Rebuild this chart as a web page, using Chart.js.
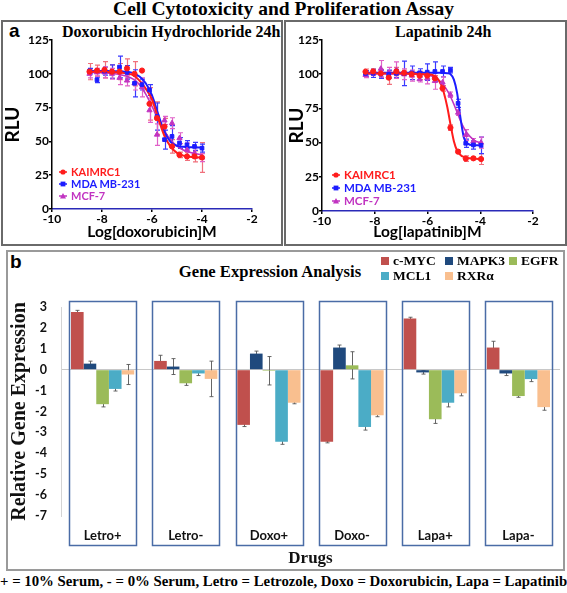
<!DOCTYPE html>
<html><head><meta charset="utf-8">
<script src="https://cdn.jsdelivr.net/npm/chart.js@4.4.0/dist/chart.umd.min.js"></script>
<style>
body{margin:0;width:567px;height:593px;position:relative;background:#fff;overflow:hidden;font-family:"Liberation Serif",serif}
.box{position:absolute;box-sizing:border-box}
canvas{position:absolute}
.t{position:absolute;white-space:nowrap;font-weight:bold}
.serif{font-family:"Liberation Serif","Times New Roman",serif}
.sans{font-family:"Liberation Sans",Arial,sans-serif}
.leg{position:absolute;font-family:Lato,sans-serif;font-weight:bold;font-size:11px;line-height:12px}
.leg div{display:flex;align-items:center;white-space:nowrap}
.bl{position:absolute;font-family:"Liberation Serif",serif;font-weight:bold;font-size:13.5px;display:flex;align-items:center;white-space:nowrap}
.sq{display:inline-block;width:8px;height:8px;margin-right:4px}
</style></head>
<body>
<!-- Panel borders -->
<div class="box" style="left:1px;top:20px;width:282px;height:226px;border:2px solid #6a6a6a"></div>
<div class="box" style="left:284px;top:20px;width:283px;height:226px;border:2px solid #6a6a6a"></div>
<div class="box" style="left:6px;top:250px;width:559px;height:321px;border:2px solid #9a9a9a"></div>

<div class="t serif" style="left:0;width:567px;text-align:center;top:-2px;font-size:19.5px">Cell Cytotoxicity and Proliferation Assay</div>
<div class="t sans" style="left:9px;top:20px;font-size:19px">a</div>
<div class="t serif" style="left:62px;top:23px;font-size:16px">Doxorubicin Hydrochloride 24h</div>
<div class="t serif" style="left:395px;top:23px;font-size:16px">Lapatinib 24h</div>
<div class="t sans" style="left:10px;top:251px;font-size:19px">b</div>
<div class="t serif" style="left:0;width:540px;text-align:center;top:262px;font-size:16.6px">Gene Expression Analysis</div>
<div class="t serif" style="left:0;width:567px;text-align:center;top:573px;font-size:14.8px">+ = 10% Serum, - = 0% Serum, Letro = Letrozole, Doxo = Doxorubicin, Lapa = Lapatinib</div>

<canvas id="doxo" width="281" height="225" style="left:1px;top:21px"></canvas>
<canvas id="lapa" width="281" height="225" style="left:285px;top:21px"></canvas>
<canvas id="gene" width="557" height="319" style="left:7px;top:251px"></canvas>

<div class="leg" id="legA" style="left:58px;top:166px"></div>
<div class="leg" id="legB" style="left:331px;top:168px;font-size:11.5px;line-height:13px"></div>
<div id="legC"></div>

<script>
// ---------- Panel a: dose response data ----------
const cellLines = ['KAIMRC1', 'MDA MB-231', 'MCF-7'];
const doxoX = [-8.5,-8.2,-7.9,-7.6,-7.3,-7.0,-6.7,-6.4,-6.1,-5.8,-5.5,-5.2,-4.9,-4.6,-4.3,-4.0];
const doxoKAIMRC1 = [101.6,102.4,103,101.6,101.6,104,100,102.4,77.8,67.2,61,46.3,40,38.9,38.9,38.1];
const doxoMDA     = [102,95.5,102,101.6,105,101,93,92,88,68.4,51.3,53.7,48.8,47.5,46.3,45];
const doxoMCF7    = [100,101,101,100,97,95,93,90,73,55,65.5,63.5,52.4,43.8,41.4,38];
const doxoKAIMRC1Err = [6,4,6,5,6,7,9,0,12,12,6,5,2,3,4,11];
const doxoMDAErr     = [2,2,3,5,8,5,10,4,4,10,7,8,4,3,3,3];
const doxoMCF7Err    = [3,3,4,4,5,4,5,7,9,8,3,4,4,5,4,3];
// fitted curves
const doxoCurveX = [-8.5,-8.25,-8,-7.75,-7.5,-7.25,-7,-6.75,-6.5,-6.25,-6,-5.75,-5.5,-5.25,-5,-4.75,-4.5,-4.25,-4];
const doxoCurveKAIMRC1 = [101.5,101.5,101.5,101.4,101.2,100.9,100.3,99,95,89,81,67,54,46,41.5,39.5,38.6,38.2,38];
const doxoCurveMDA     = [102,102,102,102,101.9,101.8,101.5,100.5,98,93,84,70,57,49.5,46.8,46,45.7,45.6,45.5];
const doxoCurveMCF7    = [101,101,100.8,100.5,100,99.3,98.2,96,92,85,76,66,57.5,51,46.5,43.7,42,40.8,40];

const lapaX = [-8.35,-8.06,-7.77,-7.47,-7.18,-6.89,-6.6,-6.3,-6.01,-5.72,-5.43,-5.13,-4.84,-4.55,-4.26,-3.97];
const lapaKAIMRC1 = [101.8,102,100.6,97.5,102,101,100,99,99,97,89.7,60.9,43.4,38.3,38.5,38];
const lapaMDA     = [100.6,100.6,100,100,100.6,100.6,101,101,101.5,102,102,103,78.7,49.5,48.3,48];
const lapaMCF7    = [99.5,101,104,101,103,100,99,96.3,97,95,94,85,71.9,55.5,51,50];
const lapaKAIMRC1Err = [2,2,3,5,3,2,2,3,2,2,2,2,1,2,1,4];
const lapaMDAErr     = [2,3,3,3,3,9,5,3,6,7,4,2,3,3,3,6];
const lapaMCF7Err    = [2,2,6,4,6,4,4,2,4,6,4,2,2,4,2,4];
const lapaCurveX = [-8.35,-8,-7.5,-7,-6.5,-6,-5.75,-5.5,-5.375,-5.25,-5.125,-5,-4.875,-4.75,-4.625,-4.5,-4.25,-3.97];
const lapaCurveKAIMRC1 = [100.5,100.5,100.5,100.5,100.3,99.8,99,93,86,76,63,51,44,41,39.5,38.8,38.3,38];
const lapaCurveMDA     = [101,101,101,101,101,101,101,101,100.9,100.7,100,96,86,68,54,49.5,48,48];
const lapaCurveMCF7    = [100.3,100.3,100.3,100.2,100,99.3,98,94.5,91.5,88,83.5,78,72,66,61,57,52,49.5];

const doseYTicks = [0,25,50,75,100,125];
const doseXTicks = [-10,-8,-6,-4,-2];

const lineColors  = ['#ff1c1c', '#1c1cff', '#c133c1'];
const errorColors = ['#f0707c', '#3a3aff', '#e060c8'];
const markerStyles = ['circle', 'rect', 'triangle'];

// ---------- Panel b: gene expression data ----------
const drugs = ['Letro+','Letro-','Doxo+','Doxo-','Lapa+','Lapa-'];
const genes = ['c-MYC','MAPK3','EGFR','MCL1','RXR\u03b1'];
const cMYC  = [2.76, 0.42, -2.64, -3.45, 2.45, 1.06];
const MAPK3 = [0.29, 0.15, 0.77, 1.06, -0.13, -0.18];
const EGFR  = [-1.65, -0.65, -0.05, 0.21, -2.37, -1.26];
const MCL1  = [-0.92, -0.18, -3.45, -2.74, -1.58, -0.45];
const RXRa  = [-0.23, -0.44, -1.58, -2.18, -1.13, -1.79];
const cMYCErr  = [0.08, 0.27, 0.08, 0.05, 0.06, 0.3];
const MAPK3Err = [0.12, 0.38, 0.12, 0.12, 0.08, 0.1];
const EGFRErr  = [0.13, 0.1, 0.68, 0.65, 0.2, 0.06];
const MCL1Err  = [0.1, 0.1, 0.12, 0.15, 0.2, 0.12];
const RXRaErr  = [0.48, 0.85, 0.05, 0.07, 0.12, 0.15];
const geneColors = ['#c0504d', '#1f497d', '#9bbb59', '#4bacc6', '#f9bf8f'];
const geneYTicks = [-7,-6,-5,-4,-3,-2,-1,0,1,2,3];

// ---------- plugins ----------
const errorBarPlugin = {
  id: 'errorBars',
  beforeDatasetsDraw(chart) {
    const ctx = chart.ctx;
    chart.data.datasets.forEach((ds, i) => {
      if (!ds.errors) return;
      const meta = chart.getDatasetMeta(i);
      if (meta.hidden) return;
      const ys = chart.scales[meta.yAxisID];
      ctx.save();
      ctx.strokeStyle = ds.errorColor;
      ctx.lineWidth = ds.errorWidth || 1;
      meta.data.forEach((el, j) => {
        const e = ds.errors[j];
        if (!e) return;
        const v = ds.data[j];
        const yv = (typeof v === 'object') ? v.y : v;
        const x = Math.round(el.x) + 0.5;
        const yt = ys.getPixelForValue(yv + e), yb = ys.getPixelForValue(yv - e);
        const c = ds.capHalf || 2.5;
        ctx.beginPath();
        ctx.moveTo(x, yt); ctx.lineTo(x, yb);
        ctx.moveTo(x - c, yt); ctx.lineTo(x + c, yt);
        ctx.moveTo(x - c, yb); ctx.lineTo(x + c, yb);
        ctx.stroke();
      });
      ctx.restore();
    });
  }
};

const groupBoxPlugin = {
  id: 'groupBoxes',
  beforeDatasetsDraw(chart, args, opts) {
    const xs = chart.scales.x, ys = chart.scales.y, ctx = chart.ctx;
    const step = xs.getPixelForValue(1) - xs.getPixelForValue(0);
    const half = step * opts.fraction / 2;
    const top = ys.getPixelForValue(opts.top), bottom = ys.getPixelForValue(opts.bottom);
    ctx.save();
    ctx.strokeStyle = opts.color;
    ctx.lineWidth = 1.5;
    chart.data.labels.forEach((l, i) => {
      const cx = xs.getPixelForValue(i);
      ctx.strokeRect(Math.round(cx - half) + 0.5, Math.round(top) + 0.5, Math.round(2 * half), Math.round(bottom - top));
    });
    ctx.restore();
  }
};

// ---------- dose response charts ----------
function pts(xs, ys) { return xs.map((x, i) => ({x: x, y: ys[i]})); }

function doseChart(id, xTitle, X, series, errs, curveX, curves, yWidth, padRight, xHeight) {
  const datasets = [];
  series.forEach((s, k) => {
    datasets.push({
      label: cellLines[k], data: pts(X, s), showLine: false,
      pointStyle: markerStyles[k], pointRadius: k === 2 ? 3 : 2.6,
      backgroundColor: lineColors[k], borderColor: lineColors[k], borderWidth: 1,
      errors: errs[k], errorColor: errorColors[k], errorWidth: 1.2, capHalf: 2.5
    });
  });
  curves.forEach((c, k) => {
    datasets.push({
      label: cellLines[k] + ' fit', data: pts(curveX, c), showLine: true,
      pointRadius: 0, borderColor: lineColors[k], borderWidth: k === 2 ? 1.6 : 2,
      cubicInterpolationMode: 'monotone', fill: false
    });
  });
  return new Chart(document.getElementById(id), {
    type: 'scatter',
    data: { datasets },
    plugins: [errorBarPlugin],
    options: {
      responsive: false, animation: false, devicePixelRatio: 1,
      layout: { padding: { top: 19, right: padRight, left: 0, bottom: 0 } },
      plugins: { legend: { display: false }, tooltip: { enabled: false } },
      scales: {
        x: {
          type: 'linear', min: -10, max: -2,
          afterBuildTicks: s => { s.ticks = doseXTicks.map(v => ({value: v})); },
          afterFit: s => { s.height = xHeight; },
          grid: { drawOnChartArea: false, drawTicks: true, tickLength: 3, color: '#000', lineWidth: 1.5 },
          border: { color: '#2a2ab8', width: 1.5 },
          ticks: { color: '#000', padding: 0, font: { family: 'Lato', weight: 'bold', size: 12 }, maxRotation: 0 },
          title: { display: true, text: xTitle, color: '#000', padding: { top: 0, bottom: 5 },
                   font: { family: 'Lato', weight: 'bold', size: 15.5 } }
        },
        y: {
          type: 'linear', min: 0, max: 125,
          afterBuildTicks: s => { s.ticks = doseYTicks.map(v => ({value: v})); },
          afterFit: s => { s.width = yWidth; },
          grid: { drawOnChartArea: false, drawTicks: true, tickLength: 3, color: '#000', lineWidth: 1.5 },
          border: { color: '#000', width: 1.5 },
          ticks: { color: '#000', padding: 0, font: { family: 'Lato', weight: 'bold', size: 12 } },
          title: { display: true, text: 'RLU', color: '#000', padding: { top: 0, bottom: 0 },
                   font: { family: 'Lato', weight: 'bold', size: 19 } }
        }
      }
    }
  });
}

doseChart('doxo', 'Log[doxorubicin]M', doxoX,
  [doxoKAIMRC1, doxoMDA, doxoMCF7], [doxoKAIMRC1Err, doxoMDAErr, doxoMCF7Err],
  doxoCurveX, [doxoCurveKAIMRC1, doxoCurveMDA, doxoCurveMCF7], 51, 30, 37);
doseChart('lapa', 'Log[lapatinib]M', lapaX,
  [lapaKAIMRC1, lapaMDA, lapaMCF7], [lapaKAIMRC1Err, lapaMDAErr, lapaMCF7Err],
  lapaCurveX, [lapaCurveKAIMRC1, lapaCurveMDA, lapaCurveMCF7], 37, 33, 35);

// legends for panel a
function markerSvg(k) {
  const c = lineColors[k];
  let m;
  if (k === 0) m = `<circle cx="5" cy="4" r="2.6" fill="${c}"/>`;
  else if (k === 1) m = `<rect x="2.6" y="1.6" width="4.8" height="4.8" fill="${c}"/>`;
  else m = `<polygon points="5,1 8,6.5 2,6.5" fill="${c}"/>`;
  return `<svg width="10" height="8" style="margin-right:3px"><line x1="1" y1="4" x2="9" y2="4" stroke="${c}" stroke-width="1.5"/>${m}</svg>`;
}
['legA','legB'].forEach(id => {
  document.getElementById(id).innerHTML = cellLines.map((n, k) =>
    `<div style="color:${lineColors[k]}">${markerSvg(k)}${n}</div>`).join('');
});

// ---------- gene expression chart ----------
const geneSeries = [cMYC, MAPK3, EGFR, MCL1, RXRa];
const geneErrs = [cMYCErr, MAPK3Err, EGFRErr, MCL1Err, RXRaErr];
new Chart(document.getElementById('gene'), {
  type: 'bar',
  data: {
    labels: drugs,
    datasets: genes.map((g, k) => ({
      label: g, data: geneSeries[k], backgroundColor: geneColors[k],
      borderColor: geneColors[k], borderWidth: 0,
      categoryPercentage: 0.76, barPercentage: 1,
      errors: geneErrs[k], errorColor: '#555', errorWidth: 0.9, capHalf: 2
    }))
  },
  plugins: [groupBoxPlugin, errorBarPlugin],
  options: {
    responsive: false, animation: false, devicePixelRatio: 1,
    layout: { padding: { top: 56, right: 4, left: 0, bottom: 0 } },
    plugins: {
      legend: { display: false }, tooltip: { enabled: false },
      groupBoxes: { fraction: 0.8, top: 3.27, bottom: -8.4, color: '#4a6ca6' }
    },
    scales: {
      x: {
        afterFit: s => { s.height = 54; },
        grid: { display: false, drawTicks: false }, border: { display: false },
        ticks: { color: '#111', padding: 12, font: { family: 'Lato', weight: 'bold', size: 13 } },
        title: { display: true, text: 'Drugs', color: '#111', padding: { top: 0, bottom: 1 },
                 font: { family: 'Liberation Serif', weight: 'bold', size: 17 } }
      },
      y: {
        min: -7, max: 3,
        afterBuildTicks: s => { s.ticks = geneYTicks.map(v => ({value: v})); },
        afterFit: s => { s.width = 54; },
        grid: { drawTicks: false, color: c => (c.tick && c.tick.value === 0) ? '#c8c8c8' : 'rgba(0,0,0,0)' },
        border: { color: '#d4d4d4', width: 1 },
        ticks: { color: '#111', padding: 14, font: { family: 'Lato', weight: 'bold', size: 12.5 } },
        title: { display: true, text: 'Relative Gene Expression', color: '#111', padding: { top: 1, bottom: 0 },
                 font: { family: 'Liberation Serif', weight: 'bold', size: 20 } }
      }
    }
  }
});

// legend for panel b
const legPos = [[381,253],[445,253],[509,253],[381,268],[445,268]];
document.getElementById('legC').innerHTML = genes.map((g, k) =>
  `<div class="bl" style="left:${legPos[k][0]}px;top:${legPos[k][1]}px"><span class="sq" style="background:${geneColors[k]}"></span>${g}</div>`).join('');
</script>
</body></html>
